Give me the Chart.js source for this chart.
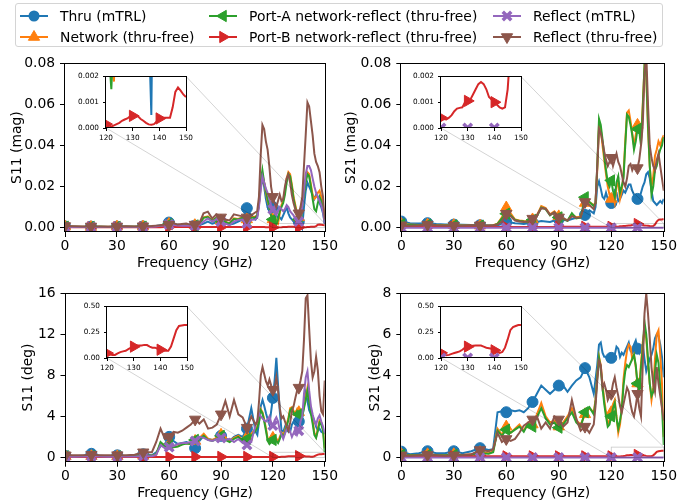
<!DOCTYPE html>
<html>
<head>
<meta charset="utf-8">
<script src="https://cdn.jsdelivr.net/npm/chart.js@4.4.1/dist/chart.umd.min.js"></script>
<style>
  html, body { margin: 0; padding: 0; background: #fff; }
  body { width: 678px; height: 502px; position: relative; overflow: hidden; font-family: 'DejaVu Sans', sans-serif; }
  canvas.plot { position: absolute; z-index: 1; }
  canvas.inset { position: absolute; z-index: 2; }
  #legend { position: absolute; left: 15px; top: 3px; width: 646px; height: 42px; border: 1px solid #d4d4d4; border-radius: 3px; background: #fff; z-index: 3; }
  .item { position: absolute; display: flex; align-items: center; height: 18px; font-size: 13.9px; color: #000; white-space: nowrap; }
  .item canvas { margin-right: 12px; }
</style>
</head>
<body>
<div id="legend"></div>
<script>
// frequency grid (GHz)
const freq = [0, 5, 10, 15, 20, 25, 30, 35, 40, 45,
  50, 52.5, 55, 57.5, 60, 62.5, 65, 67.5, 70, 72.5, 75, 77.5, 80, 82.5, 85, 87.5, 90, 92.5, 95, 97.5, 100, 102.5, 105, 107.5, 110,
  111, 112, 113, 114, 115, 116, 117, 118, 119, 120, 121, 122, 123, 124, 125, 126, 127, 128, 129, 130,
  131, 132, 133, 134, 135, 136, 137, 138, 139, 140, 141, 142, 143, 144, 145, 146, 147, 148, 149, 150];

const seriesNames = ['Thru (mTRL)', 'Network (thru-free)', 'Port-A network-reflect (thru-free)',
  'Port-B network-reflect (thru-free)', 'Reflect (mTRL)', 'Reflect (thru-free)'];

// tick labels
const freqTicks = [0, 30, 60, 90, 120, 150];
const insetFreqTicks = [120, 130, 140, 150];
const magTicks = [0, 0.02, 0.04, 0.06, 0.08];
const s11DegTicks = [0, 4, 8, 12, 16];
const s21DegTicks = [0, 2, 4, 6, 8];
const insetMagTicks = [0, 0.001, 0.002];
const insetDegTicks = [0, 0.25, 0.5];

// ---- S11 magnitude error ----
const s11MagThru = [.0006, .0005, .0004, .0005, .0004, .0005, .0005, .0006, .0005, .0006,
  .0006, .0008, .0012, .0015, .0025, .002, .0015, .0012, .001, .0012, .001, .0012, .002, .003, .002, .0025, .003, .002, .0015, .002, .003, .004, .0095, .006, .004,
  .005, .012, .02, .024, .02, .014, .01, .008, .009, .01, .008, .006, .005, .005, .004, .006, .008, .01, .007, .005,
  .004, .003, .004, .003, .003, .004, .0005, .01, .018, .022, .02, .018, .016, .014, .016, .015, .012, .01, .007, .002];
const s11MagNetwork = [.0005, .0004, .0004, .0003, .0004, .0004, .0005, .0005, .0004, .0005,
  .0005, .0007, .001, .0012, .0018, .0015, .0012, .001, .0012, .001, .0012, .0015, .005, .0055, .0035, .005, .0035, .003, .002, .0045, .0042, .005, .004, .005, .0055,
  .006, .011, .02, .026, .022, .017, .013, .01, .006, .004, .003, .0025, .0018, .007, .011, .013, .018, .024, .027, .026,
  .021, .015, .011, .007, .005, .006, .011, .017, .023, .027, .026, .021, .016, .014, .015, .017, .018, .015, .011, .004];
const s11MagPortA = [.0005, .0004, .0003, .0004, .0004, .0003, .0004, .0005, .0004, .0005,
  .0005, .0006, .001, .0011, .0017, .0014, .0011, .001, .0011, .001, .0011, .0014, .0048, .0052, .0033, .0048, .0032, .0028, .0019, .0042, .004, .0048, .0038, .0048, .005,
  .006, .012, .022, .028, .022, .018, .014, .01, .006, .004, .003, .0015, .004, .008, .01, .012, .016, .022, .026, .025,
  .02, .014, .01, .006, .004, .005, .01, .016, .022, .026, .025, .02, .014, .009, .008, .012, .015, .013, .01, .003];
const s11MagPortB = [.0003, .0002, .0002, .0002, .0002, .0002, .0002, .0002, .0002, .0002,
  .0002, .0002, .0002, .0003, .0003, .0003, .0003, .0003, .0003, .0003, .0003, .0003, .0003, .0003, .0003, .0003, .0003, .0003, .0003, .0003, .0003, .0003, .0003, .0003, .0003,
  .0003, .0003, .0003, .0003, .0003, .0002, .0002, .0002, .0002, .00015, .0001, .00005, .0001, .00015, .0002, .00028, .00033, .00037, .00045, .00047,
  .00048, .00045, .00035, .00028, .0002, .00014, .00013, .00015, .00025, .00037, .00039, .0004, .0004, .0004, .0008, .0014, .00157, .00145, .0013, .0012];
const s11MagReflM = [.0004, .0003, .0003, .0003, .0003, .0003, .0004, .0003, .0003, .0004,
  .0004, .0006, .0009, .001, .0015, .0013, .001, .0009, .001, .0009, .001, .0012, .003, .0045, .003, .004, .003, .002, .0012, .003, .0038, .004, .002, .0038, .004,
  .005, .01, .018, .025, .022, .019, .017, .014, .011, .009, .007, .006, .008, .01, .009, .008, .009, .011, .01, .008,
  .007, .006, .004, .003, .003, .005, .01, .018, .026, .03, .03, .028, .024, .02, .017, .015, .013, .011, .008, .002];
const s11MagReflT = [.0008, .0007, .0006, .0006, .0006, .0005, .0006, .0007, .0006, .0007,
  .0008, .001, .0012, .0015, .0015, .0022, .0015, .0018, .002, .0015, .0015, .002, .007, .0078, .0045, .0065, .005, .004, .0035, .0065, .006, .0055, .005, .006, .0075,
  .008, .015, .035, .05, .048, .042, .038, .03, .02, .015, .012, .01, .013, .016, .013, .014, .02, .024, .026, .022,
  .016, .012, .009, .008, .007, .01, .015, .03, .045, .061, .059, .052, .045, .036, .032, .03, .027, .02, .015, .004];

// ---- S21 magnitude error ----
const s21MagThru = [.003, .0022, .002, .0022, .0018, .0016, .0015, .0014, .0013, .0012,
  .0011, .0012, .0012, .0018, .0028, .0025, .0022, .002, .0018, .0022, .0025, .0028, .0032, .003, .0028, .0035, .0042, .0038, .0035, .0042, .0048, .005, .0062, .0085, .007,
  .01, .02, .0225, .019, .015, .014, .017, .014, .012, .012, .015, .018, .017, .013, .014, .016, .018, .017, .019, .021,
  .021, .018, .016, .015, .014, .014, .017, .02, .022, .026, .027, .024, .018, .013, .012, .011, .012, .013, .012, .014];
const s21MagNetwork = [.0018, .0015, .0013, .0015, .0013, .0012, .0012, .0011, .0011, .001,
  .001, .0012, .002, .005, .0098, .007, .004, .0035, .0032, .003, .004, .006, .0105, .0095, .0065, .008, .0055, .0045, .0035, .0065, .005, .0055, .012, .0125, .011,
  .012, .028, .05, .048, .04, .033, .026, .02, .016, .014, .016, .012, .02, .022, .014, .018, .026, .042, .056, .057,
  .052, .046, .04, .045, .05, .048, .042, .06, .078, .074, .048, .03, .02, .025, .035, .038, .042, .04, .043, .045];
const s21MagPortA = [.0016, .0014, .0012, .0014, .0012, .0011, .0011, .001, .001, .001,
  .001, .0011, .0018, .0045, .0068, .006, .0038, .0033, .003, .0028, .0038, .0055, .0098, .009, .006, .0075, .005, .0042, .0034, .007, .0045, .005, .0148, .0125, .0105,
  .012, .03, .053, .05, .043, .035, .028, .022, .02, .023, .018, .015, .022, .025, .017, .02, .024, .04, .055, .054,
  .05, .045, .038, .042, .048, .047, .04, .058, .079, .076, .05, .03, .016, .02, .028, .03, .035, .038, .04, .044];
const s21MagPortB = [.0004, .0003, .0003, .0003, .0003, .0003, .0003, .0003, .0003, .0003,
  .0003, .0003, .0003, .0003, .0003, .0003, .0003, .0003, .0003, .0003, .0003, .0003, .0003, .0003, .0003, .0003, .0004, .0004, .0004, .0004, .0004, .0004, .0004, .0004, .0004,
  .0004, .0004, .0004, .0004, .0004, .0004, .0004, .0004, .0004, .0004, .00035, .00033, .0004, .0005, .00065, .00075, .00078, .0008, .001, .00105,
  .0011, .0013, .0015, .0017, .00178, .0017, .0015, .0012, .0011, .001, .0009, .0008, .00075, .0008, .0015, .003, .0038, .004, .004, .0042];
const s21MagReflM = [0, 0, 0, 0, 0, 0, 0, 0, 0, 0,
  0, 0, 0, 0, 0, 0, 0, 0, 0, 0, 0, 0, 0, 0, 0, 0, 0, 0, 0, 0, 0, 0, 0, 0, 0,
  0, 0, 0, 0, 0, 0, 0, 0, 0, 0, 0, 0, 0, 0, 0, 0, 0, 0, 0, 0,
  0, 0, 0, 0, 0, 0, 0, 0, 0, 0, 0, 0, 0, 0, 0, 0, 0, 0, 0, 0];
const s21MagReflT = [.0012, .001, .0012, .0015, .0012, .0011, .001, .001, .0012, .0011,
  .0011, .0012, .0015, .003, .0068, .0055, .0035, .003, .0028, .003, .0044, .006, .0095, .0092, .0062, .0075, .005, .0045, .0035, .0055, .0048, .005, .0125, .011, .009,
  .012, .03, .048, .046, .042, .037, .033, .03, .032, .034, .03, .033, .036, .032, .03, .026, .022, .02, .024, .03,
  .031, .028, .03, .03, .029, .033, .04, .05, .075, .085, .06, .04, .034, .03, .028, .033, .036, .03, .024, .018];

// ---- S11 phase error (deg) ----
const s11DegThru = [.15, .12, .15, .35, .15, .12, .2, .12, .15, .3,
  .2, .5, 1.1, 1.3, 2.0, 1.6, 1.3, 1.4, 1.5, 1.3, .9, 1.6, 2.1, 1.8, 1.7, 1.8, 2.1, 1.9, 1.6, 2.0, 2.2, 2.0, 2.8, 4.8, 2.5,
  2.2, 3.5, 5.0, 5.6, 5.0, 4.3, 3.7, 3.2, 4.5, 5.8, 7.5, 9.7, 7.0, 4.5, 2.6, 2.5, 3.0, 2.7, 2.5, 2.5,
  3.2, 3.5, 3.3, 3.0, 3.5, 3.4, 3.8, 5.2, 6.3, 5.5, 4.6, 4.2, 4.0, 3.6, 3.0, 2.6, 2.8, 2.5, 2.4, 2.3];
const s11DegNetwork = [.1, .08, .1, .12, .1, .08, .1, .12, .1, .15,
  .15, .3, 1.4, 1.2, 1.3, 1.0, 1.1, 1.3, 1.4, 1.3, 1.6, 1.9, 2.3, 1.8, 1.7, 1.9, 2.2, 1.8, 1.6, 1.9, 2.1, 1.6, 2.0, 2.3, 2.8,
  3.0, 3.6, 4.7, 4.4, 3.7, 2.8, 1.8, 1.4, 1.6, 1.9, 2.1, 1.7, 1.5, 2.0, 2.4, 2.2, 2.6, 3.2, 3.9, 4.8,
  4.9, 4.5, 4.3, 4.7, 4.4, 4.0, 4.2, 5.0, 5.8, 6.8, 5.8, 4.6, 3.6, 2.4, 2.0, 2.8, 3.6, 3.4, 2.8, .9];
const s11DegPortA = [.1, .08, .1, .12, .1, .08, .1, .12, .1, .15,
  .15, .3, 1.5, 1.1, 1.2, 1.0, 1.05, 1.25, 1.35, 1.3, 1.7, 1.8, 2.1, 1.7, 1.6, 1.8, 2.1, 1.7, 1.5, 1.8, 2.0, 1.5, 1.8, 2.1, 2.6,
  2.9, 3.5, 4.6, 4.3, 3.5, 2.6, 1.6, 1.3, 1.5, 1.7, 2.0, 1.6, 1.4, 1.8, 2.3, 2.0, 2.4, 3.0, 3.7, 4.6,
  4.8, 4.3, 4.1, 4.5, 4.2, 3.9, 4.0, 4.8, 5.6, 6.5, 5.4, 4.3, 3.3, 2.2, 1.9, 2.6, 3.4, 3.2, 2.6, .5];
const s11DegPortB = [.05, .04, .04, .04, .04, .04, .04, .04, .04, .04,
  .04, .04, .05, .05, .05, .04, .04, .04, .05, .05, .05, .04, .04, .04, .05, .05, .05, .05, .04, .04, .04, .05, .05, .05, .05,
  .05, .05, .05, .05, .05, .05, .05, .05, .05, .047, .035, .03, .03, .045, .057, .064, .07, .085, .1, .11,
  .12, .12, .122, .127, .125, .11, .1, .1, .09, .08, .075, .07, .07, .11, .19, .27, .31, .315, .32, .32];
const s11DegReflM = [.08, .06, .08, .1, .08, .06, .08, .1, .08, .12,
  .12, .25, 1.2, .9, 1.0, 1.1, 1.3, 1.4, 1.4, 1.5, 1.6, 2.0, 1.9, 1.7, 1.6, 1.8, 1.9, 1.7, 1.8, 1.5, 1.8, 1.4, 1.2, 1.5, 3.2,
  3.6, 4.3, 4.0, 3.8, 3.6, 3.5, 3.7, 4.0, 3.4, 3.1, 3.6, 3.9, 3.5, 2.6, 2.2, 1.8, 2.3, 2.8, 3.0, 2.5,
  2.0, 2.4, 2.8, 2.2, 2.6, 3.5, 4.0, 6.2, 7.8, 8.4, 6.5, 5.0, 4.2, 3.5, 3.2, 3.8, 4.1, 3.5, 3.0, 2.4];
const s11DegReflT = [.2, .2, .2, .25, .2, .2, .22, .2, .25, .5,
  .5, 1.5, 2.8, 1.8, 2.0, 2.5, 2.4, 2.6, 2.9, 3.2, 3.7, 3.3, 3.7, 2.8, 2.9, 3.2, 4.2, 5.5, 4.0, 5.6, 4.2, 3.9, 2.9, 4.0, 3.2,
  3.5, 5.5, 8.0, 8.8, 8.1, 7.4, 7.0, 7.6, 7.0, 6.6, 6.8, 7.8, 6.5, 4.8, 3.8, 4.0, 3.5, 3.0, 2.6, 3.4,
  4.5, 5.0, 5.8, 6.5, 6.8, 7.5, 8.4, 11.5, 15.5, 15.8, 12.5, 9.4, 7.8, 8.4, 9.8, 8.5, 6.0, 4.5, 4.2, 7.5];

// ---- S21 phase error (deg) ----
const s21DegThru = [.28, .15, .2, .3, .2, .2, .3, .2, .3, .45,
  .36, .4, 2.2, 2.25, 2.2, 2.3, 2.25, 2.3, 2.2, 2.4, 2.7, 3.1, 3.5, 3.3, 3.1, 3.3, 3.5, 3.5, 3.2, 3.5, 3.75, 3.9, 4.35, 3.9, 3.1,
  3.8, 4.5, 5.5, 5.6, 5.1, 4.9, 4.9, 4.7, 4.8, 4.85, 4.7, 5.0, 5.4, 5.3, 4.9, 5.1, 5.0, 5.2, 5.4, 5.6,
  5.2, 5.1, 5.5, 5.7, 5.3, 5.1, 5.4, 5.5, 4.8, 4.2, 4.5, 4.8, 5.0, 5.3, 5.8, 6.0, 5.9, 5.5, 4.9, 3.9];
const s21DegNetwork = [.15, .1, .12, .15, .12, .1, .15, .12, .15, .25,
  .2, .3, 1.4, 1.1, 1.5, 1.2, 1.4, 1.6, 1.3, 1.7, 1.6, 2.1, 2.65, 2.0, 1.7, 1.8, 1.5, 1.7, 2.0, 2.4, 1.8, 1.6, 2.1, 2.4, 2.2,
  2.8, 4.0, 4.9, 4.5, 3.6, 2.8, 2.2, 1.6, 1.8, 2.2, 2.6, 2.8, 2.0, 1.2, 1.6, 2.4, 3.8, 4.6, 5.2, 5.5,
  5.4, 4.8, 5.0, 4.4, 3.6, 3.4, 4.6, 5.6, 6.2, 5.8, 4.6, 3.6, 2.8, 3.4, 4.8, 6.0, 6.2, 5.0, 3.6, 1.0];
const s21DegPortA = [.12, .1, .1, .12, .1, .1, .12, .1, .12, .2,
  .18, .25, 1.3, 1.05, 1.35, 1.2, 1.35, 1.5, 1.25, 1.65, 1.5, 1.95, 2.4, 1.9, 1.6, 1.7, 1.45, 1.6, 1.9, 2.2, 1.7, 1.5, 2.2, 2.45, 2.1,
  2.7, 3.9, 4.85, 4.3, 3.4, 2.6, 2.0, 1.5, 1.6, 2.0, 2.4, 2.65, 1.9, 1.4, 1.8, 2.3, 3.5, 4.2, 4.5, 4.4,
  4.6, 4.8, 5.0, 4.5, 3.6, 3.2, 4.4, 5.3, 6.6, 6.0, 4.8, 3.6, 3.0, 3.2, 4.2, 5.0, 4.6, 3.4, 2.5, .6];
const s21DegPortB = [.06, .05, .05, .05, .05, .05, .05, .05, .05, .05,
  .05, .05, .05, .05, .05, .05, .05, .05, .05, .05, .05, .05, .05, .05, .05, .05, .05, .05, .05, .05, .05, .05, .05, .05, .05,
  .05, .05, .05, .05, .05, .05, .05, .05, .05, .05, .03, .026, .03, .04, .048, .056, .064, .08, .1, .11,
  .115, .118, .12, .12, .12, .11, .1, .095, .09, .074, .06, .05, .058, .1, .18, .27, .3, .31, .32, .32];
const s21DegReflM = [0, 0, 0, 0, 0, 0, 0, 0, 0, 0,
  0, 0, 0, 0, 0, 0, 0, 0, 0, 0, 0, 0, 0, 0, 0, 0, 0, 0, 0, 0, 0, 0, 0, 0, 0,
  0, 0, 0, 0, 0, 0, 0, 0, 0, 0, 0, 0, 0, 0, 0, 0, 0, 0, 0, 0,
  0, 0, 0, 0, 0, 0, 0, 0, 0, 0, 0, 0, 0, 0, 0, 0, 0, 0, 0, 0];
const s21DegReflT = [.1, .08, .1, .12, .1, .08, .1, .12, .15, .36,
  .3, .4, 1.2, .75, .9, .8, .9, 1.2, 1.55, 1.7, 1.85, 2.0, 1.4, 1.7, 1.4, 2.0, 1.85, 1.5, 1.7, 2.8, 1.9, 1.3, 1.5, 1.2, 1.6,
  2.5, 3.75, 4.7, 4.5, 3.4, 3.6, 3.3, 2.8, 3.0, 3.1, 3.6, 3.9, 3.4, 3.0, 2.5, 2.2, 2.6, 3.0, 3.4, 3.2,
  2.6, 2.2, 2.0, 2.5, 3.1, 2.4, 2.0, 4.5, 7.0, 8.0, 7.0, 5.8, 4.4, 3.6, 3.2, 4.4, 3.6, 3.0, 2.4, 1.8];

// ---------- styling ----------
const colors = ['#1f77b4', '#ff7f0e', '#2ca02c', '#d62728', '#9467bd', '#8c564b'];
const markers = [
  { style: 'circle', rot: 0, r: 5.5, bw: 1 },
  { style: 'triangle', rot: 0, r: 6.5, bw: 1 },
  { style: 'triangle', rot: -90, r: 6.5, bw: 1 },
  { style: 'triangle', rot: 90, r: 6.5, bw: 1 },
  { style: 'crossRot', rot: 0, r: 6, bw: 3.5 },
  { style: 'triangle', rot: 180, r: 6.5, bw: 1 }
];

Chart.defaults.font.family = "'DejaVu Sans', sans-serif";
Chart.defaults.font.size = 13.9;
Chart.defaults.color = '#000';
Chart.defaults.animation = false;

const panels = [
  { id: 'tl', left: 0, top: 50, yW: 65, padTop: 7.5, padRight: 8, xH: 40, titlePad: 8.7,
    yTitle: 'S11 (mag)', yMin: -0.0021, yMax: 0.08, yTicks: magTicks, dec: 2,
    series: [s11MagThru, s11MagNetwork, s11MagPortA, s11MagPortB, s11MagReflM, s11MagReflT],
    inset: { left: 105.7, top: 75.7, yMax: 0.002, yTicks: insetMagTicks, dec: 3 } },
  { id: 'tr', left: 339, top: 50, yW: 62.3, padTop: 7.5, padRight: 11.7, xH: 40, titlePad: 3.7,
    yTitle: 'S21 (mag)', yMin: -0.0021, yMax: 0.08, yTicks: magTicks, dec: 2,
    series: [s21MagThru, s21MagNetwork, s21MagPortA, s21MagPortB, s21MagReflM, s21MagReflT],
    inset: { left: 440.5, top: 75.7, yMax: 0.002, yTicks: insetMagTicks, dec: 3 } },
  { id: 'bl', left: 0, top: 280, yW: 65.5, padTop: 8.3, padRight: 8, xH: 40.3, titlePad: 19.7,
    yTitle: 'S11 (deg)', yMin: -0.42, yMax: 16, yTicks: s11DegTicks, dec: 0,
    series: [s11DegThru, s11DegNetwork, s11DegPortA, s11DegPortB, s11DegReflM, s11DegReflT],
    inset: { left: 106.5, top: 305.7, yMax: 0.5, yTicks: insetDegTicks, dec: 2 } },
  { id: 'br', left: 339, top: 280, yW: 62.3, padTop: 8.3, padRight: 11.7, xH: 40.3, titlePad: 27.7,
    yTitle: 'S21 (deg)', yMin: -0.21, yMax: 8, yTicks: s21DegTicks, dec: 0,
    series: [s21DegThru, s21DegNetwork, s21DegPortA, s21DegPortB, s21DegReflM, s21DegReflT],
    inset: { left: 441, top: 305.7, yMax: 0.5, yTicks: insetDegTicks, dec: 2 } }
];

const insetFor = {};

const framePlugin = {
  id: 'frame',
  afterDraw(chart) {
    const a = chart.chartArea, c = chart.ctx;
    c.save();
    c.strokeStyle = '#000';
    c.lineWidth = 1;
    c.strokeRect(Math.round(a.left) - 0.5, Math.round(a.top) + 0.5,
      Math.round(a.right) - Math.round(a.left) + 1, Math.round(a.bottom) - Math.round(a.top) - 1);
    c.restore();
  }
};

const whiteBg = {
  id: 'whiteBg',
  beforeDraw(chart) {
    const a = chart.chartArea, c = chart.ctx;
    c.save();
    c.fillStyle = '#fff';
    c.fillRect(a.left, a.top, a.right - a.left, a.bottom - a.top);
    c.restore();
  }
};

// zoom box + connector lines toward the inset
const zoomMark = {
  id: 'zoomMark',
  afterDatasetsDraw(chart) {
    const info = insetFor[chart.canvas.id];
    if (!info) return;
    const xs = chart.scales.x, ys = chart.scales.y;
    const rx0 = xs.getPixelForValue(info.x0), rx1 = xs.getPixelForValue(info.x1);
    const ry0 = ys.getPixelForValue(0), ry1 = ys.getPixelForValue(info.y1);
    const mb = chart.canvas.getBoundingClientRect();
    const ib = info.chart.canvas.getBoundingClientRect();
    const ia = info.chart.chartArea;
    const dx = ib.left - mb.left, dy = ib.top - mb.top;
    const c = chart.ctx;
    c.save();
    c.strokeStyle = 'rgba(0,0,0,0.22)';
    c.lineWidth = 0.8;
    c.strokeRect(rx0, ry1, rx1 - rx0, ry0 - ry1);
    c.beginPath();
    c.moveTo(dx + ia.left, dy + ia.bottom);
    c.lineTo(rx0, ry0);
    c.moveTo(dx + ia.right, dy + ia.top);
    c.lineTo(rx1, ry1);
    c.stroke();
    c.restore();
  }
};

function makeCanvas(id, cls, left, top, w, h) {
  const cv = document.createElement('canvas');
  cv.id = id;
  cv.className = cls;
  cv.width = w;
  cv.height = h;
  cv.style.left = left + 'px';
  cv.style.top = top + 'px';
  cv.style.width = w + 'px';
  cv.style.height = h + 'px';
  document.body.appendChild(cv);
  return cv;
}

function buildDatasets(series, every, from) {
  return series.map((vals, i) => ({
    label: seriesNames[i],
    data: freq.map((f, j) => ({ x: f, y: vals[j] })),
    borderColor: colors[i],
    backgroundColor: colors[i],
    pointBorderColor: colors[i],
    pointBackgroundColor: colors[i],
    borderWidth: 2,
    pointStyle: markers[i].style,
    pointRotation: markers[i].rot,
    pointBorderWidth: markers[i].bw,
    pointRadius: ctx => {
      const f = ctx.raw ? ctx.raw.x : -1;
      return (f >= from && f < 150 && f % every === 0) ? markers[i].r : 0;
    },
    pointHoverRadius: 0,
    order: series.length - i,
    clip: 0
  }));
}

function scaleOpts(o) {
  return {
    x: {
      type: 'linear', min: o.xMin, max: o.xMax,
      afterBuildTicks: s => { s.ticks = o.xTicks.map(v => ({ value: v })); },
      afterFit: s => { s.height = o.xH; },
      ticks: { autoSkip: false, maxRotation: 0, padding: o.xPad, font: { size: o.fs }, callback: v => String(v) },
      grid: { drawOnChartArea: false, color: '#000', tickLength: o.tick, lineWidth: 1 },
      border: { display: false },
      title: o.xTitle ? { display: true, text: o.xTitle, font: { size: 13.9 }, padding: { top: 0, bottom: 0.5 } } : { display: false }
    },
    y: {
      type: 'linear', min: o.yMin, max: o.yMax,
      afterBuildTicks: s => { s.ticks = o.yTicks.map(v => ({ value: v })); },
      afterFit: s => { s.width = o.yW; },
      ticks: { autoSkip: false, padding: o.yPad, font: { size: o.fs }, callback: v => Number(v).toFixed(o.dec) },
      grid: { drawOnChartArea: false, color: '#000', tickLength: o.tick, lineWidth: 1 },
      border: { display: false },
      title: o.yTitle ? { display: true, text: o.yTitle, font: { size: 13.9 }, padding: { top: o.titlePad, bottom: 0 } } : { display: false }
    }
  };
}

panels.forEach(p => {
  const main = makeCanvas(p.id, 'plot', p.left, p.top, 339, 222);

  // inset axes
  const ins = p.inset;
  const iyW = 36, iPadTop = 8, iW = 80, iH = 52, iPadR = 10, ixH = 22;
  const icv = makeCanvas(p.id + '_in', 'inset', ins.left - iyW, ins.top - iPadTop, iyW + iW + iPadR, iPadTop + iH + ixH);
  const insetChart = new Chart(icv, {
    type: 'line',
    data: { datasets: buildDatasets(p.series, 10, 120) },
    options: {
      responsive: false, animation: false, events: [],
      layout: { padding: { top: iPadTop, right: iPadR, left: 0, bottom: 0 } },
      plugins: { legend: { display: false }, tooltip: { enabled: false } },
      scales: scaleOpts({ xMin: 120, xMax: 150, xTicks: insetFreqTicks, xH: ixH, xPad: 3, fs: 7.3, tick: 3,
        yMin: 0, yMax: ins.yMax, yTicks: ins.yTicks, yW: iyW, yPad: 4, dec: ins.dec })
    },
    plugins: [whiteBg, framePlugin]
  });
  insetFor[p.id] = { chart: insetChart, x0: 120, x1: 150, y1: ins.yMax };

  new Chart(main, {
    type: 'line',
    data: { datasets: buildDatasets(p.series, 15, 0) },
    options: {
      responsive: false, animation: false, events: [],
      layout: { padding: { top: p.padTop, right: p.padRight, left: 0, bottom: 0 } },
      plugins: { legend: { display: false }, tooltip: { enabled: false } },
      scales: scaleOpts({ xMin: 0, xMax: 150, xTicks: freqTicks, xH: p.xH, xPad: 1, fs: 13.9, tick: 5,
        xTitle: 'Frequency (GHz)', yMin: p.yMin, yMax: p.yMax, yTicks: p.yTicks, yW: p.yW, yPad: 4.9,
        dec: p.dec, yTitle: p.yTitle, titlePad: p.titlePad })
    },
    plugins: [zoomMark, framePlugin]
  });
});

// ---------- legend (matplotlib style, column-major) ----------
function drawMarker(ctx, m, x, y, color) {
  ctx.save();
  ctx.fillStyle = color;
  ctx.strokeStyle = color;
  if (m.style === 'circle') {
    ctx.beginPath();
    ctx.arc(x, y, m.r, 0, Math.PI * 2);
    ctx.fill();
  } else if (m.style === 'triangle') {
    const a0 = m.rot * Math.PI / 180;
    ctx.beginPath();
    for (let k = 0; k < 3; k++) {
      const a = a0 + k * 2 * Math.PI / 3;
      const px = x + Math.sin(a) * m.r, py = y - Math.cos(a) * m.r;
      if (k === 0) ctx.moveTo(px, py); else ctx.lineTo(px, py);
    }
    ctx.closePath();
    ctx.fill();
    ctx.lineWidth = 1;
    ctx.stroke();
  } else {
    const d = m.r * Math.SQRT1_2;
    ctx.lineWidth = m.bw;
    ctx.beginPath();
    ctx.moveTo(x - d, y - d); ctx.lineTo(x + d, y + d);
    ctx.moveTo(x + d, y - d); ctx.lineTo(x - d, y + d);
    ctx.stroke();
  }
  ctx.restore();
}

const legendCols = [4, 193, 477];
const legendRows = [3, 24];
const legend = document.getElementById('legend');
seriesNames.forEach((name, i) => {
  const item = document.createElement('div');
  item.className = 'item';
  item.style.left = legendCols[Math.floor(i / 2)] + 'px';
  item.style.top = legendRows[i % 2] + 'px';
  const h = document.createElement('canvas');
  h.width = 28; h.height = 16;
  const c = h.getContext('2d');
  c.strokeStyle = colors[i];
  c.lineWidth = 2;
  c.beginPath(); c.moveTo(0, 8); c.lineTo(28, 8); c.stroke();
  drawMarker(c, markers[i], 14, 8, colors[i]);
  item.appendChild(h);
  const t = document.createElement('span');
  t.textContent = name;
  item.appendChild(t);
  legend.appendChild(item);
});
</script>
</body>
</html>
